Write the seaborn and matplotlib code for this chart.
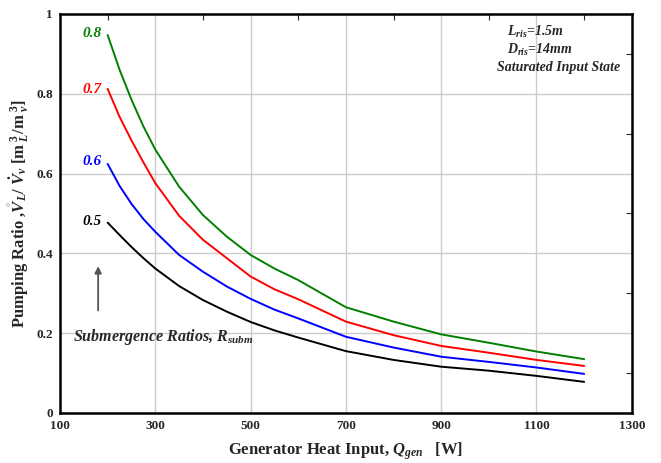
import matplotlib
matplotlib.use("Agg")
import matplotlib.pyplot as plt
from matplotlib.ticker import MultipleLocator
import numpy as np
import pandas as pd
import seaborn as sns

# values
q_gen = [200, 225, 250, 275, 300, 350, 400, 450, 500, 550, 600, 700, 800, 900, 1000, 1100, 1200]
r_08 = [0.947, 0.860, 0.785, 0.718, 0.660, 0.567, 0.496, 0.442, 0.396, 0.362, 0.333, 0.265, 0.229, 0.197, 0.176, 0.154, 0.135]
r_07 = [0.812, 0.742, 0.683, 0.628, 0.576, 0.494, 0.434, 0.388, 0.342, 0.310, 0.285, 0.229, 0.195, 0.168, 0.151, 0.133, 0.118]
r_06 = [0.624, 0.569, 0.524, 0.486, 0.454, 0.396, 0.354, 0.317, 0.286, 0.259, 0.237, 0.191, 0.164, 0.141, 0.128, 0.114, 0.098]
r_05 = [0.477, 0.446, 0.416, 0.388, 0.362, 0.318, 0.283, 0.254, 0.228, 0.207, 0.189, 0.155, 0.133, 0.116, 0.106, 0.093, 0.078]

subm_labels = ["0.8", "0.7", "0.6", "0.5"]
colors = {"0.8": "#008000", "0.7": "#ff0000", "0.6": "#0000ff", "0.5": "#000000"}

sns.set_style("white")
plt.rcParams["font.family"] = ["Liberation Serif", "DejaVu Serif"]
plt.rcParams["font.weight"] = "bold"
plt.rcParams["mathtext.fontset"] = "custom"
plt.rcParams["mathtext.rm"] = "Liberation Serif:bold"
plt.rcParams["mathtext.it"] = "Liberation Serif:bold:italic"
plt.rcParams["mathtext.bf"] = "Liberation Serif:bold"

frames = []
for lab, vals in zip(subm_labels, [r_08, r_07, r_06, r_05]):
    frames.append(pd.DataFrame({"Q": q_gen, "ratio": vals, "R": lab}))
df = pd.concat(frames, ignore_index=True)

fig = plt.figure(figsize=(6.61, 4.63), dpi=100)
ax = fig.add_axes([0.0908, 0.108, 0.865, 0.862])

sns.lineplot(data=df, x="Q", y="ratio", hue="R", palette=colors, linewidth=1.4,
             legend=False, ax=ax)

ax.set_xlim(100, 1300)
ax.set_ylim(0, 1)
ax.set_xticks(np.arange(100, 1301, 200))
ax.set_yticks([0, 0.2, 0.4, 0.6, 0.8, 1])
ax.set_yticklabels(["0", "0.2", "0.4", "0.6", "0.8", "1"])
ax.xaxis.set_minor_locator(MultipleLocator(100))
ax.yaxis.set_minor_locator(MultipleLocator(0.1))
ax.grid(True, which="major", color="#cccccc", linewidth=1.0)
ax.tick_params(which="both", direction="in", top=True, right=True, labelsize=9.5)
ax.tick_params(which="major", length=0, pad=5)
ax.tick_params(which="minor", length=4, width=0.8)
for s in ax.spines.values():
    s.set_linewidth(1.8)
    s.set_color("black")
for t in ax.get_xticklabels() + ax.get_yticklabels():
    t.set_fontweight("bold")

ax.set_xlabel(r"Generator Heat Input, $Q_{gen}$   [W]", fontsize=12, fontweight="bold", labelpad=6)
ax.set_ylabel(r"Pumping Ratio ,$\mathring{V}_L$/ $\dot{V}_v$ [m$^{\ 3}_{\ L}$/m$^{\ 3}_{\ v}$]",
              fontsize=12, fontweight="bold", labelpad=4)

# curve labels
label_y = [0.95, 0.81, 0.63, 0.48]
for lab, yy in zip(subm_labels, label_y):
    ax.text(188, yy, lab, color=colors[lab], fontsize=11, fontweight="bold",
            style="italic", ha="right", va="center")

ax.annotate("", xy=(180, 0.375), xytext=(180, 0.25),
            arrowprops=dict(arrowstyle="-|>", color="#555555", lw=1.3,
                            mutation_scale=10))
ax.text(127, 0.19, r"Submergence Ratios, $R_{subm}$", fontsize=11.5,
        fontweight="bold", style="italic", ha="left", va="center")

ax.text(1038, 0.955, r"$L_{ris}$=1.5m", fontsize=10, fontweight="bold", style="italic",
        ha="left", va="center")
ax.text(1038, 0.91, r"$D_{ris}$=14mm", fontsize=10, fontweight="bold", style="italic",
        ha="left", va="center")
ax.text(1017, 0.865, "Saturated Input State", fontsize=10, fontweight="bold",
        style="italic", ha="left", va="center")

fig.savefig("out.png", dpi=100)
